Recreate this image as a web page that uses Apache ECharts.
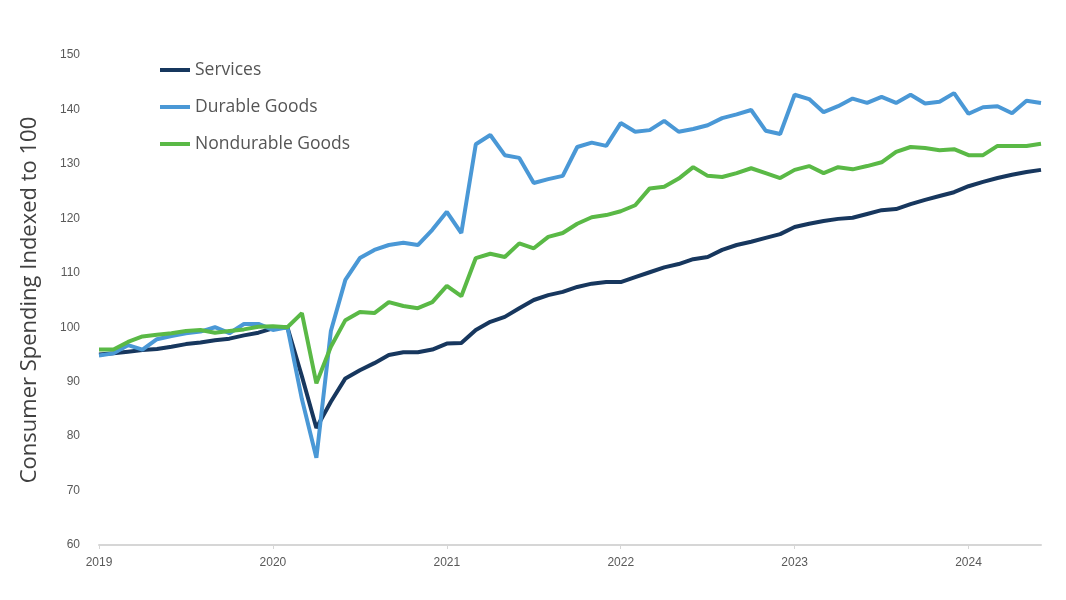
<!DOCTYPE html>
<html>
<head>
<meta charset="utf-8">
<script src="https://cdn.jsdelivr.net/npm/echarts@6/dist/echarts.min.js"></script>
<style>html,body{margin:0;padding:0;background:#fff}#c{width:1066px;height:600px}</style>
</head>
<body>
<div id="c"></div>
<script>
const years = ['2019','2020','2021','2022','2023','2024'];
const months = [];
for (const y of years) for (let m = 1; m <= 12; m++) months.push(y + '-' + String(m).padStart(2,'0'));
const categories = months.slice(0, 66);

const services = [
  95.0, 95.2, 95.5, 95.8, 96.0, 96.4, 96.9, 97.2, 97.6, 97.9, 98.5, 99.0,
  99.8, 100.0, 91.0, 81.5, 86.3, 90.6, 92.1, 93.4, 94.9, 95.4, 95.4, 95.9,
  97.0, 97.1, 99.5, 101.0, 101.9, 103.5, 105.0, 105.9, 106.5, 107.4, 108.0, 108.3,
  108.3, 109.2, 110.1, 111.0, 111.6, 112.5, 112.9, 114.2, 115.1, 115.7, 116.4, 117.1,
  118.4, 119.0, 119.5, 119.9, 120.1, 120.8, 121.5, 121.7, 122.6, 123.4, 124.1, 124.8,
  125.9, 126.7, 127.4, 128.0, 128.5, 128.9
];
const durable = [
  94.8, 95.2, 96.7, 95.9, 97.8, 98.4, 98.9, 99.2, 100.0, 98.9, 100.6, 100.6,
  99.5, 100.0, 86.8, 76.0, 99.3, 108.7, 112.7, 114.2, 115.1, 115.5, 115.1, 117.9,
  121.2, 117.3, 133.6, 135.3, 131.6, 131.1, 126.5, 127.2, 127.8, 133.1, 133.9, 133.3,
  137.5, 135.9, 136.2, 137.9, 135.9, 136.4, 137.1, 138.4, 139.1, 139.9, 136.1, 135.5,
  142.7, 141.9, 139.5, 140.6, 142.0, 141.2, 142.3, 141.2, 142.7, 141.1, 141.4, 143.0,
  139.2, 140.4, 140.6, 139.3, 141.6, 141.2
];
const nondurable = [
  95.9, 95.9, 97.3, 98.3, 98.6, 98.9, 99.3, 99.5, 99.0, 99.3, 99.6, 100.1,
  100.2, 100.0, 102.6, 89.7, 96.4, 101.3, 102.8, 102.6, 104.6, 103.9, 103.5, 104.6,
  107.6, 105.7, 112.7, 113.5, 112.9, 115.4, 114.5, 116.6, 117.3, 119.0, 120.2, 120.6,
  121.3, 122.4, 125.5, 125.8, 127.3, 129.4, 127.8, 127.6, 128.3, 129.2, 128.3, 127.4,
  128.9, 129.6, 128.3, 129.4, 129.0, 129.6, 130.3, 132.2, 133.1, 132.9, 132.5, 132.7,
  131.6, 131.6, 133.3, 133.3, 133.3, 133.7
];
const yTicks = { min: 60, max: 150, interval: 10 };

const chart = echarts.init(document.getElementById('c'), null, { renderer: 'canvas' });
const mk = (name, data, color) => ({
  name, type: 'line', data, showSymbol: false, symbol: 'none',
  lineStyle: { color, width: 4 }, itemStyle: { color }, smooth: false
});
chart.setOption({
  animation: false,
  backgroundColor: '#ffffff',
  grid: { left: 99, right: 25, top: 55, bottom: 55, containLabel: false },
  legend: {
    orient: 'vertical', left: 155, top: 54, itemGap: 15,
    itemWidth: 30, itemHeight: 4, icon: 'rect',
    textStyle: { fontFamily: 'Open Sans', fontSize: 17.5, color: '#555555', lineHeight: 22 },
    data: ['Services', 'Durable Goods', 'Nondurable Goods']
  },
  xAxis: {
    type: 'category', data: categories, boundaryGap: false,
    axisLine: { show: true, lineStyle: { color: '#d6d6d6', width: 2 } },
    axisTick: { show: true, interval: (i) => i % 12 === 0, length: 4, lineStyle: { color: '#d6d6d6', width: 1 } },
    axisLabel: {
      interval: (i) => i % 12 === 0, formatter: (v) => v.slice(0, 4),
      fontFamily: 'Liberation Sans', fontSize: 12, color: '#595959', margin: 12
    },
    splitLine: { show: false }
  },
  yAxis: {
    type: 'value', min: yTicks.min, max: yTicks.max, interval: yTicks.interval,
    name: 'Consumer Spending Indexed to 100', nameLocation: 'middle', nameGap: 58,
    nameTextStyle: { fontFamily: 'Open Sans', fontSize: 22, color: '#404040' },
    axisLine: { show: false }, axisTick: { show: false },
    axisLabel: { fontFamily: 'Liberation Sans', fontSize: 12, color: '#595959', margin: 19 },
    splitLine: { show: false }
  },
  series: [
    mk('Services', services, '#17375e'),
    mk('Durable Goods', durable, '#4a98d6'),
    mk('Nondurable Goods', nondurable, '#5ab946')
  ]
});
</script>
</body>
</html>
